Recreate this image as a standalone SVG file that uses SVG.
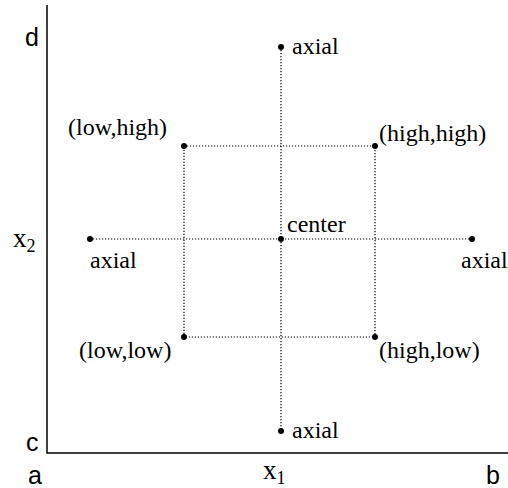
<svg xmlns="http://www.w3.org/2000/svg" width="508" height="488" viewBox="0 0 508 488">
<style>
.ax{stroke:#000;stroke-width:1.5;fill:none}
.dl{stroke:#000;stroke-width:1.2;stroke-dasharray:1.2 1.8;fill:none}
.pt{fill:#000}
.t{font-family:"Liberation Serif",serif;font-size:24px;fill:#000}
.v{font-family:"Liberation Serif",serif;font-size:27px;fill:#000}
.sub{font-size:18px}
.s{font-family:"Liberation Sans",sans-serif;font-size:25px;fill:#000}
</style>
<rect width="508" height="488" fill="#fff"/>
<g id="axes">
<polyline class="ax" points="47,5 47,453 508,453"/>
<text class="s" x="25" y="46">d</text>
<text class="s" x="26" y="451">c</text>
<text class="s" x="28" y="484">a</text>
<text class="s" x="486" y="484">b</text>
<text class="v" x="263" y="479">x<tspan class="sub" dy="5">1</tspan></text>
<text class="v" x="13" y="247">x<tspan class="sub" dy="5">2</tspan></text>
</g>
<g id="connectors">
<line class="dl" x1="281" y1="47" x2="281" y2="431"/>
<line class="dl" x1="90" y1="239" x2="472" y2="239"/>
<rect class="dl" x="184" y="146" width="191" height="191"/>
</g>
<g id="axial-top"><circle class="pt" cx="281" cy="47" r="3"/><text class="t" x="292" y="54">axial</text></g>
<g id="axial-bottom"><circle class="pt" cx="281" cy="431" r="3"/><text class="t" x="292" y="438">axial</text></g>
<g id="axial-left"><circle class="pt" cx="90" cy="239" r="3"/><text class="t" x="90" y="268">axial</text></g>
<g id="axial-right"><circle class="pt" cx="472" cy="239" r="3"/><text class="t" x="461" y="268">axial</text></g>
<g id="center"><circle class="pt" cx="281" cy="239" r="3"/><text class="t" x="287" y="232">center</text></g>
<g id="low-high"><circle class="pt" cx="184" cy="146" r="3"/><text class="t" x="68" y="135">(low,high)</text></g>
<g id="high-high"><circle class="pt" cx="375" cy="146" r="3"/><text class="t" x="379" y="141">(high,high)</text></g>
<g id="low-low"><circle class="pt" cx="184" cy="337" r="3"/><text class="t" x="79" y="358">(low,low)</text></g>
<g id="high-low"><circle class="pt" cx="375" cy="337" r="3"/><text class="t" x="379" y="358">(high,low)</text></g>
</svg>
